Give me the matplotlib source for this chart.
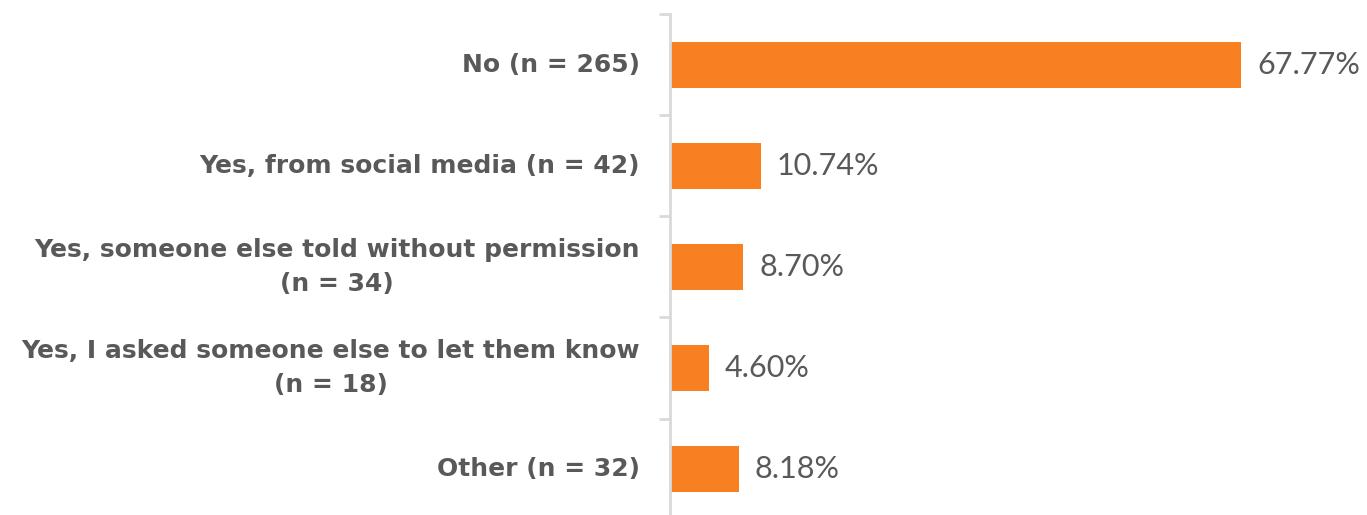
import matplotlib
matplotlib.use("Agg")
import matplotlib.pyplot as plt

categories = [
    "No (n = 265)",
    "Yes, from social media (n = 42)",
    "Yes, someone else told without permission\n(n = 34)",
    "Yes, I asked someone else to let them know\n(n = 18)",
    "Other (n = 32)",
]
percentages = [67.77, 10.74, 8.70, 4.60, 8.18]
value_labels = ["67.77%", "10.74%", "8.70%", "4.60%", "8.18%"]

BAR = "#F98020"
TEXT = "#595959"
AXIS = "#D9D9D9"

fig = plt.figure(figsize=(13.67, 5.15), dpi=100)
ax = fig.add_axes([670 / 1367, -0.009, 1 - 670 / 1367, 1 - 14 / 515 + 0.009])

n = len(categories)
ypos = list(range(n))
ax.barh(ypos, percentages, height=0.455, color=BAR, zorder=2)
ax.set_ylim(n - 0.5, -0.5)
ax.set_xlim(0, 82.7)

for y, v, lab in zip(ypos, percentages, value_labels):
    ax.annotate(lab, (v, y), xytext=(16, 0), textcoords="offset pixels",
                ha="left", va="center", fontsize=22, color=TEXT,
                family="Lato", fontweight="normal")

for y, c in zip(ypos, categories):
    ax.annotate(c, (0, y), xycoords=("axes fraction", "data"),
                xytext=(-30, 0), textcoords="offset pixels",
                ha="right", va="center", ma="center", fontsize=18,
                color=TEXT, family="DejaVu Sans", fontweight="bold",
                linespacing=1.5)

for s in ["top", "right", "bottom"]:
    ax.spines[s].set_visible(False)
ax.spines["left"].set_color(AXIS)
ax.spines["left"].set_linewidth(2)
ax.set_xticks([])
ax.set_yticks([i - 0.5 for i in range(n + 1)])
ax.set_yticklabels([])
ax.tick_params(axis="y", length=8, width=2, color=AXIS, direction="out")

fig.savefig("out.png", dpi=100)
